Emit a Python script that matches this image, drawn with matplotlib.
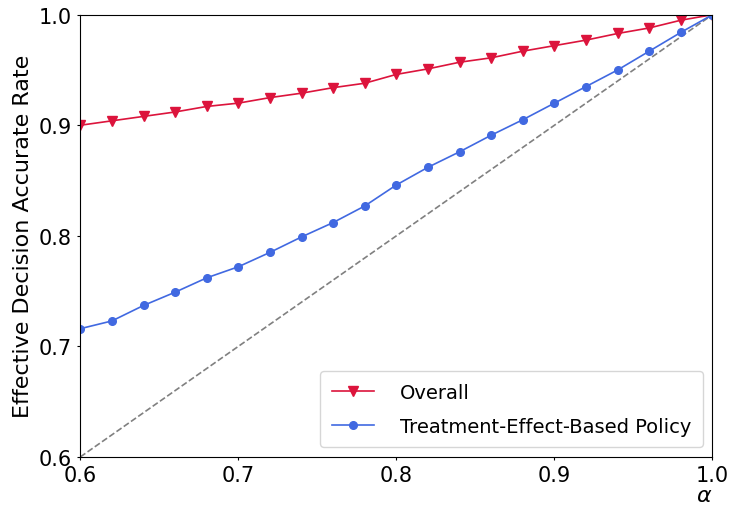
import matplotlib
matplotlib.use('Agg')
import matplotlib.pyplot as plt

alpha = [0.60, 0.62, 0.64, 0.66, 0.68, 0.70, 0.72, 0.74, 0.76, 0.78, 0.80,
         0.82, 0.84, 0.86, 0.88, 0.90, 0.92, 0.94, 0.96, 0.98, 1.00]
overall = [0.900, 0.904, 0.908, 0.912, 0.917, 0.920, 0.925, 0.929, 0.934, 0.938, 0.946,
           0.951, 0.957, 0.961, 0.967, 0.972, 0.977, 0.983, 0.988, 0.995, 1.000]
treatment = [0.716, 0.723, 0.737, 0.749, 0.762, 0.772, 0.785, 0.799, 0.812, 0.827, 0.846,
             0.862, 0.876, 0.891, 0.905, 0.920, 0.935, 0.950, 0.967, 0.984, 1.000]
diag = [0.6, 1.0]

fig = plt.figure(figsize=(7.3, 5.06), dpi=100)
ax = fig.add_axes([0.110, 0.095, 0.866, 0.874])

ax.plot(diag, diag, linestyle='--', color='grey', linewidth=1.2)
ax.plot(alpha, overall, color='crimson', marker='v', markersize=6.5, linewidth=1.2, label='Overall')
ax.plot(alpha, treatment, color='royalblue', marker='o', markersize=5.5, linewidth=1.2,
        label='Treatment-Effect-Based Policy')

ax.set_xlim(0.6, 1.0)
ax.set_ylim(0.6, 1.0)
ax.set_xticks([0.6, 0.7, 0.8, 0.9, 1.0])
ax.set_yticks([0.6, 0.7, 0.8, 0.9, 1.0])
ax.tick_params(labelsize=15, length=2.5)
ax.set_xlabel(r'$\alpha$', fontsize=16, loc='right', labelpad=0)
ax.set_ylabel('Effective Decision Accurate Rate', fontsize=16)
ax.legend(loc='lower right', fontsize=14, handlelength=2.2, handletextpad=1.3,
          labelspacing=0.75, borderpad=0.6)

fig.savefig('out.png')
